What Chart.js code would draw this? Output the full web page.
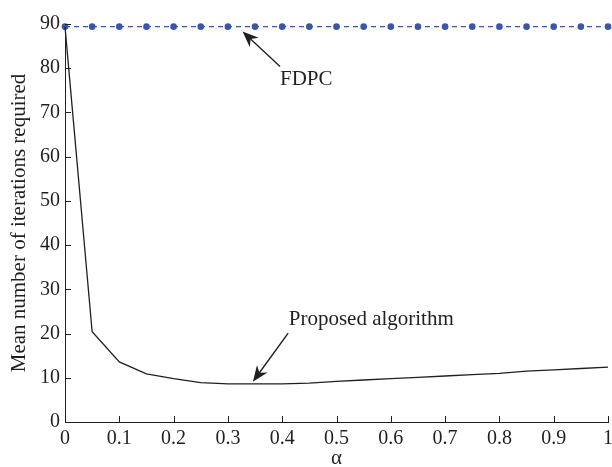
<!DOCTYPE html>
<html>
<head>
<meta charset="utf-8">
<script src="https://cdn.jsdelivr.net/npm/chart.js@4.4.0/dist/chart.umd.min.js"></script>
<style>
  html, body { margin: 0; padding: 0; background: #fff; }
  #wrap { width: 612px; height: 467px; }
</style>
</head>
<body>
<div id="wrap"><canvas id="chart" width="612" height="467"></canvas></div>
<script>
// --- Data ---
const alphaValues = [0, 0.05, 0.1, 0.15, 0.2, 0.25, 0.3, 0.35, 0.4, 0.45, 0.5,
                     0.55, 0.6, 0.65, 0.7, 0.75, 0.8, 0.85, 0.9, 0.95, 1];
const fdpcIterations = [89.4, 89.4, 89.4, 89.4, 89.4, 89.4, 89.4, 89.4, 89.4, 89.4, 89.4,
                        89.4, 89.4, 89.4, 89.4, 89.4, 89.4, 89.4, 89.4, 89.4, 89.4];
const proposedIterations = [89.4, 20.4, 13.6, 10.9, 9.8, 8.9, 8.6, 8.6, 8.6, 8.8, 9.2,
                            9.5, 9.8, 10.1, 10.4, 10.7, 11.0, 11.5, 11.8, 12.1, 12.4];
const yTicks = [0, 10, 20, 30, 40, 50, 60, 70, 80, 90];
const xTicks = [0, 0.1, 0.2, 0.3, 0.4, 0.5, 0.6, 0.7, 0.8, 0.9, 1];

// annotation labels: text, text anchor, arrow tail, arrow tip (data units)
const notes = [
  { text: 'FDPC', at: [0.396, 77.4], from: [0.396, 80.4], to: [0.327, 88.3] },
  { text: 'Proposed algorithm', at: [0.412, 23.1], from: [0.411, 20.1], to: [0.346, 9.1] }
];

const SERIF = '"Liberation Serif", "Times New Roman", serif';
const INK = '#231f20';

function toPoints(xs, ys) {
  return xs.map((x, i) => ({ x: x, y: ys[i] }));
}

// inward tick marks like the original figure
const inwardTicks = {
  id: 'inwardTicks',
  afterDatasetsDraw(chart) {
    const { ctx, scales: { x, y } } = chart;
    ctx.save();
    ctx.strokeStyle = INK;
    ctx.lineWidth = 1;
    ctx.beginPath();
    xTicks.forEach(v => {
      const px = Math.round(x.getPixelForValue(v)) + 0.5;
      ctx.moveTo(px, y.bottom);
      ctx.lineTo(px, y.bottom - 6);
    });
    yTicks.forEach(v => {
      const py = Math.round(y.getPixelForValue(v)) + 0.5;
      ctx.moveTo(x.left, py);
      ctx.lineTo(x.left + 6, py);
    });
    ctx.stroke();
    ctx.restore();
  }
};

// text labels with arrows
const arrowNotes = {
  id: 'arrowNotes',
  afterDatasetsDraw(chart) {
    const { ctx, scales: { x, y } } = chart;
    ctx.save();
    notes.forEach(n => {
      const x1 = x.getPixelForValue(n.from[0]), y1 = y.getPixelForValue(n.from[1]);
      const x2 = x.getPixelForValue(n.to[0]), y2 = y.getPixelForValue(n.to[1]);
      const ang = Math.atan2(y2 - y1, x2 - x1);
      const headLen = 16, headW = 6.5;
      const bx = x2 - headLen * Math.cos(ang), by = y2 - headLen * Math.sin(ang);
      ctx.strokeStyle = INK;
      ctx.fillStyle = INK;
      ctx.lineWidth = 1.4;
      ctx.beginPath();
      ctx.moveTo(x1, y1);
      ctx.lineTo(x2 - 8 * Math.cos(ang), y2 - 8 * Math.sin(ang));
      ctx.stroke();
      ctx.beginPath();
      ctx.moveTo(x2, y2);
      ctx.lineTo(bx + headW * Math.sin(ang), by - headW * Math.cos(ang));
      ctx.lineTo(x2 - (headLen - 5) * Math.cos(ang), y2 - (headLen - 5) * Math.sin(ang));
      ctx.lineTo(bx - headW * Math.sin(ang), by + headW * Math.cos(ang));
      ctx.closePath();
      ctx.fill();

      ctx.font = '21px ' + SERIF;
      ctx.textAlign = 'left';
      ctx.textBaseline = 'middle';
      ctx.fillText(n.text, x.getPixelForValue(n.at[0]), y.getPixelForValue(n.at[1]));
    });
    ctx.restore();
  }
};

new Chart(document.getElementById('chart'), {
  type: 'line',
  data: {
    datasets: [
      {
        label: 'Proposed algorithm',
        data: toPoints(alphaValues, proposedIterations),
        borderColor: INK,
        borderWidth: 1.3,
        pointRadius: 0,
        fill: false,
        tension: 0
      },
      {
        label: 'FDPC',
        data: toPoints(alphaValues, fdpcIterations),
        borderColor: '#3a56a8',
        backgroundColor: '#3a56a8',
        borderWidth: 1.2,
        borderDash: [5, 4],
        pointRadius: 3.3,
        pointBorderWidth: 0,
        fill: false,
        tension: 0
      }
    ]
  },
  options: {
    responsive: false,
    animation: false,
    clip: false,
    layout: { padding: { top: 24, right: 4, left: 0, bottom: 0 } },
    plugins: { legend: { display: false }, tooltip: { enabled: false } },
    scales: {
      x: {
        type: 'linear',
        min: 0,
        max: 1,
        afterFit: s => { s.height = 45; s.paddingRight = 0; s.paddingLeft = 0; },
        afterBuildTicks: s => { s.ticks = xTicks.map(v => ({ value: v })); },
        grid: { display: false, drawTicks: false },
        border: { display: true, color: INK, width: 1 },
        ticks: {
          padding: 5,
          color: INK,
          font: { family: SERIF, size: 20 },
          maxRotation: 0,
          callback: v => String(Number(v.toFixed(1)))
        },
        title: {
          display: true,
          text: 'α',
          color: INK,
          font: { family: SERIF, size: 21 },
          padding: { top: 0, bottom: -4 }
        }
      },
      y: {
        type: 'linear',
        min: 0,
        max: 90,
        afterFit: s => { s.width = 65; s.paddingTop = 0; s.paddingBottom = 0; },
        afterBuildTicks: s => { s.ticks = yTicks.map(v => ({ value: v })); },
        grid: { display: false, drawTicks: false },
        border: { display: true, color: INK, width: 1 },
        ticks: {
          padding: 5,
          color: INK,
          font: { family: SERIF, size: 20 }
        },
        title: {
          display: true,
          text: 'Mean number of iterations required',
          color: INK,
          font: { family: SERIF, size: 21 },
          padding: { top: 7, bottom: 0 }
        }
      }
    }
  },
  plugins: [inwardTicks, arrowNotes]
});
</script>
</body>
</html>
